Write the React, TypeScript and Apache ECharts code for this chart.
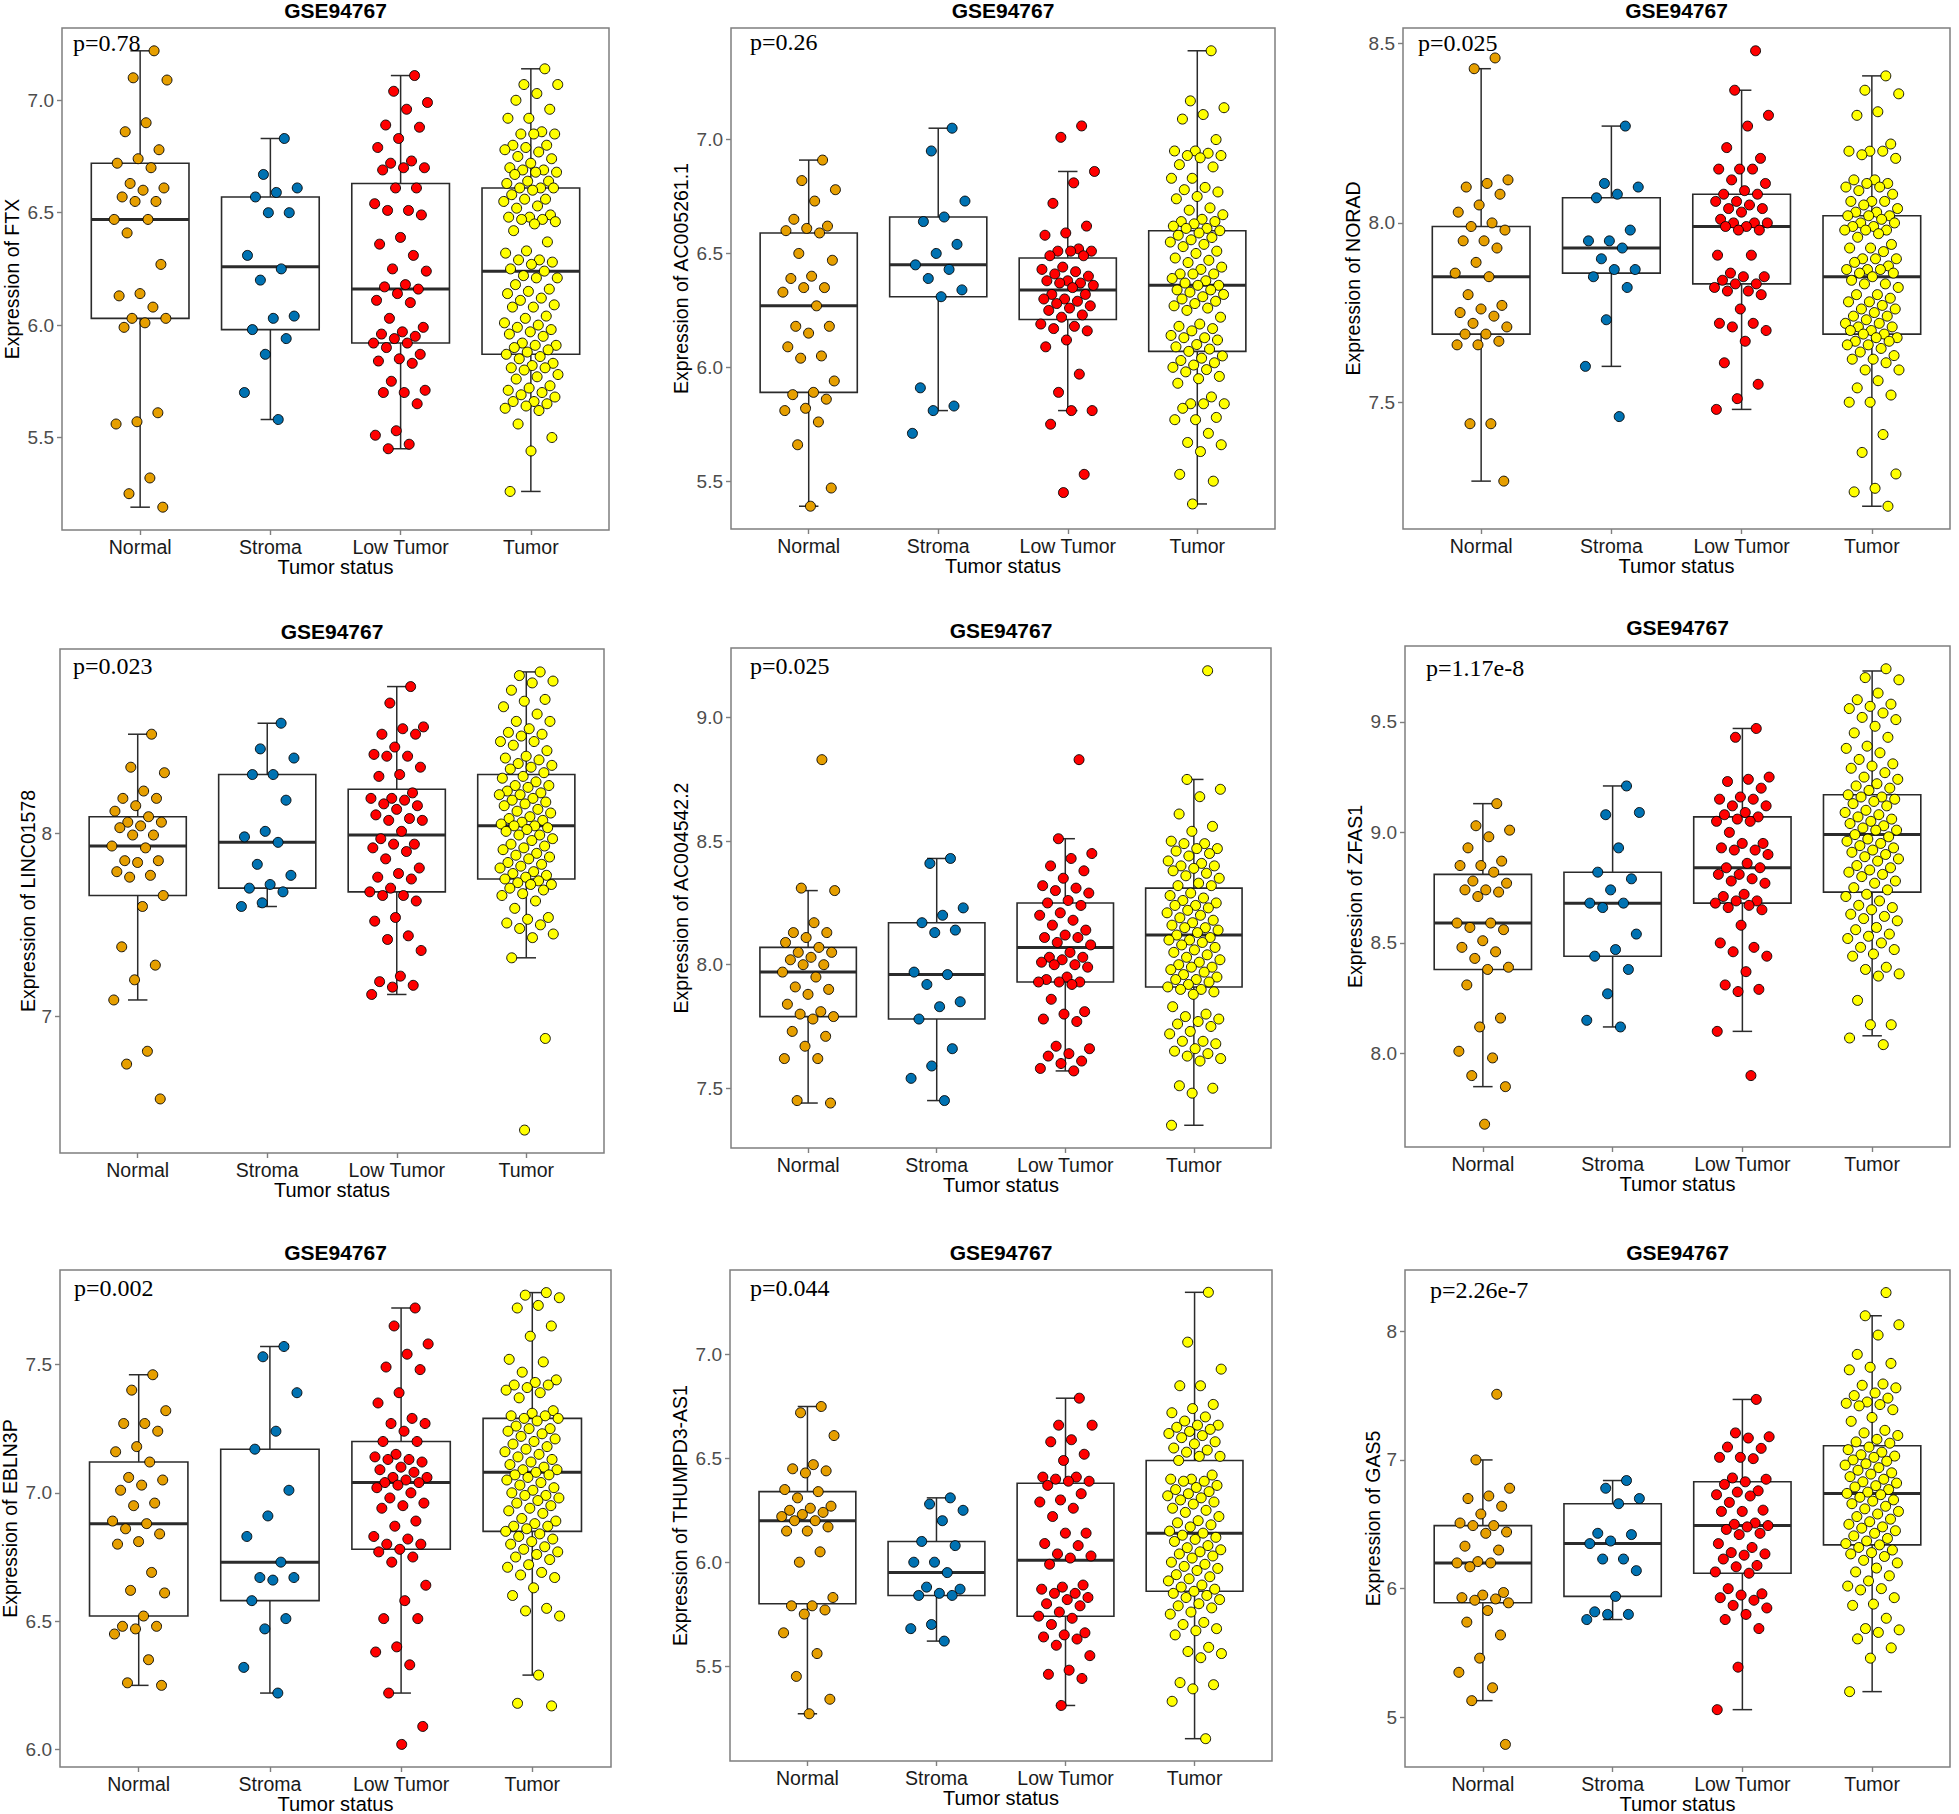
import React, { useEffect, useRef } from "react";
import * as echarts from "echarts";

const categories = ["Normal", "Stroma", "Low Tumor", "Tumor"];
const groupColors = ["#E69F00", "#0072B2", "#FF0000", "#FFFF00"];
const datasetTitle = "GSE94767";
const xAxisTitle = "Tumor status";

// ---------- Panel 1: FTX ----------
const ftxNormal = [7.22,7.10,7.09,6.90,6.86,6.78,6.74,6.72,6.70,6.63,6.61,6.60,6.57,6.55,6.55,6.47,6.47,6.41,6.27,6.14,6.13,6.08,6.03,6.03,6.01,5.99,5.61,5.57,5.56,5.32,5.25,5.19];
const ftxStroma = [6.83,6.67,6.61,6.59,6.57,6.50,6.50,6.31,6.25,6.20,6.04,6.03,5.98,5.94,5.87,5.70,5.58];
const ftxLow = [7.11,7.04,6.99,6.96,6.89,6.88,6.83,6.79,6.73,6.72,6.70,6.70,6.69,6.61,6.61,6.54,6.51,6.51,6.49,6.39,6.36,6.31,6.25,6.24,6.18,6.17,6.16,6.14,6.11,6.10,6.03,5.99,5.97,5.96,5.95,5.94,5.92,5.92,5.90,5.87,5.85,5.84,5.83,5.75,5.71,5.70,5.70,5.65,5.53,5.51,5.47,5.45];
const ftxTumor = [7.14,7.07,7.07,7.03,7.00,6.96,6.92,6.92,6.86,6.85,6.85,6.85,6.80,6.80,6.79,6.78,6.77,6.75,6.74,6.72,6.70,6.69,6.69,6.68,6.68,6.67,6.64,6.64,6.63,6.61,6.61,6.61,6.60,6.58,6.56,6.56,6.55,6.53,6.52,6.49,6.48,6.48,6.47,6.47,6.46,6.45,6.42,6.37,6.33,6.32,6.29,6.29,6.28,6.27,6.25,6.24,6.22,6.21,6.21,6.18,6.16,6.15,6.14,6.12,6.11,6.09,6.08,6.08,6.04,6.03,6.01,6.00,5.99,5.98,5.97,5.96,5.95,5.92,5.91,5.91,5.90,5.89,5.88,5.87,5.86,5.85,5.83,5.82,5.81,5.81,5.80,5.78,5.77,5.76,5.73,5.72,5.71,5.70,5.69,5.68,5.66,5.66,5.65,5.64,5.63,5.62,5.56,5.50,5.44,5.26];
const ftxBox = [[5.19,6.03,6.47,6.72,7.22],[5.58,5.98,6.26,6.57,6.83],[5.45,5.92,6.16,6.63,7.11],[5.26,5.87,6.24,6.61,7.14]];
const ftxTicks = [5.5, 6.0, 6.5, 7.0];

// ---------- Panel 2: AC005261.1 ----------
const ac005Normal = [6.91,6.82,6.78,6.73,6.65,6.62,6.61,6.60,6.59,6.50,6.47,6.40,6.39,6.35,6.35,6.33,6.27,6.18,6.18,6.15,6.09,6.05,6.04,5.94,5.89,5.88,5.86,5.82,5.81,5.76,5.66,5.47,5.39];
const ac005Stroma = [7.05,6.95,6.73,6.66,6.64,6.54,6.50,6.45,6.43,6.39,6.34,6.31,5.91,5.83,5.81,5.71];
const ac005Low = [7.06,7.01,6.86,6.81,6.72,6.62,6.59,6.58,6.52,6.51,6.51,6.51,6.49,6.49,6.44,6.43,6.42,6.41,6.40,6.38,6.38,6.37,6.37,6.36,6.35,6.32,6.32,6.30,6.30,6.29,6.28,6.27,6.26,6.25,6.23,6.22,6.19,6.18,6.17,6.16,6.12,6.09,5.97,5.89,5.81,5.81,5.75,5.53,5.45];
const ac005Tumor = [7.39,7.17,7.14,7.11,7.09,7.00,6.95,6.95,6.94,6.93,6.93,6.92,6.89,6.88,6.83,6.83,6.79,6.78,6.77,6.75,6.74,6.70,6.69,6.67,6.65,6.64,6.64,6.63,6.62,6.61,6.61,6.60,6.59,6.58,6.57,6.56,6.55,6.54,6.53,6.51,6.50,6.48,6.47,6.46,6.44,6.43,6.41,6.41,6.41,6.39,6.38,6.37,6.36,6.36,6.34,6.34,6.33,6.32,6.31,6.30,6.29,6.28,6.27,6.26,6.25,6.22,6.19,6.18,6.17,6.16,6.14,6.13,6.13,6.12,6.10,6.09,6.08,6.07,6.05,6.04,6.03,6.02,6.01,6.00,5.99,5.98,5.96,5.95,5.93,5.87,5.84,5.84,5.84,5.82,5.78,5.77,5.77,5.71,5.67,5.66,5.63,5.53,5.50,5.40];
const ac005Box = [[5.39,5.89,6.27,6.59,6.91],[5.81,6.31,6.45,6.66,7.05],[5.81,6.21,6.34,6.48,6.86],[5.40,6.07,6.36,6.60,7.39]];
const ac005Ticks = [5.5, 6.0, 6.5, 7.0];

// ---------- Panel 3: NORAD ----------
const noradNormal = [8.46,8.43,8.12,8.11,8.10,8.08,8.05,8.03,8.00,7.99,7.98,7.95,7.95,7.93,7.89,7.86,7.85,7.80,7.77,7.76,7.75,7.74,7.72,7.71,7.69,7.69,7.67,7.66,7.66,7.44,7.44,7.28];
const noradStroma = [8.27,8.11,8.10,8.08,8.07,7.98,7.95,7.95,7.93,7.90,7.87,7.87,7.85,7.82,7.73,7.60,7.46];
const noradLow = [8.48,8.37,8.30,8.27,8.21,8.18,8.15,8.15,8.15,8.12,8.11,8.09,8.08,8.08,8.06,8.06,8.05,8.04,8.04,8.03,8.01,8.00,8.00,8.00,7.99,7.99,7.98,7.98,7.91,7.91,7.86,7.85,7.85,7.84,7.83,7.83,7.82,7.81,7.81,7.80,7.76,7.72,7.72,7.71,7.70,7.67,7.61,7.55,7.51,7.48];
const noradTumor = [8.41,8.37,8.36,8.31,8.30,8.22,8.20,8.20,8.20,8.19,8.18,8.12,8.12,8.11,8.11,8.10,8.10,8.09,8.08,8.06,8.06,8.06,8.05,8.04,8.03,8.03,8.02,8.02,8.02,8.01,8.00,8.00,7.99,7.99,7.98,7.98,7.98,7.97,7.96,7.94,7.93,7.93,7.92,7.90,7.90,7.90,7.89,7.88,7.87,7.87,7.87,7.86,7.86,7.85,7.84,7.83,7.83,7.82,7.80,7.80,7.79,7.78,7.78,7.77,7.76,7.76,7.75,7.74,7.74,7.73,7.72,7.72,7.71,7.71,7.70,7.70,7.69,7.69,7.68,7.68,7.67,7.67,7.66,7.66,7.65,7.64,7.63,7.62,7.62,7.61,7.59,7.59,7.56,7.54,7.52,7.50,7.50,7.41,7.36,7.30,7.26,7.25,7.21];
const noradBox = [[7.28,7.69,7.85,7.99,8.43],[7.60,7.86,7.93,8.07,8.27],[7.48,7.83,7.99,8.08,8.37],[7.21,7.69,7.85,8.02,8.41]];
const noradTicks = [7.5, 8.0, 8.5];

// ---------- Panel 4: LINC01578 ----------
const lincNormal = [8.54,8.36,8.33,8.23,8.19,8.19,8.15,8.12,8.09,8.06,8.06,8.04,8.03,7.99,7.99,7.93,7.92,7.85,7.85,7.84,7.79,7.77,7.76,7.66,7.60,7.38,7.28,7.20,7.09,6.81,6.74,6.55];
const lincStroma = [8.60,8.46,8.41,8.32,8.32,8.18,8.01,7.98,7.95,7.83,7.77,7.72,7.70,7.68,7.62,7.60];
const lincLow = [8.80,8.71,8.58,8.57,8.54,8.54,8.47,8.43,8.42,8.42,8.36,8.32,8.31,8.22,8.19,8.19,8.18,8.16,8.15,8.13,8.10,8.08,8.07,8.07,8.01,7.97,7.94,7.94,7.92,7.90,7.86,7.81,7.78,7.76,7.75,7.70,7.68,7.66,7.66,7.63,7.54,7.52,7.44,7.42,7.36,7.22,7.19,7.17,7.16,7.12];
const lincTumor = [8.88,8.86,8.83,8.82,8.78,8.73,8.72,8.69,8.65,8.61,8.61,8.57,8.55,8.54,8.53,8.50,8.50,8.48,8.45,8.42,8.41,8.40,8.38,8.37,8.36,8.35,8.33,8.31,8.30,8.28,8.26,8.26,8.25,8.23,8.22,8.21,8.21,8.19,8.18,8.17,8.16,8.15,8.13,8.12,8.11,8.09,8.08,8.07,8.06,8.05,8.04,8.04,8.03,8.02,8.01,7.99,7.99,7.97,7.96,7.94,7.93,7.92,7.91,7.89,7.88,7.87,7.86,7.84,7.83,7.82,7.81,7.79,7.78,7.77,7.76,7.75,7.74,7.73,7.72,7.72,7.70,7.69,7.67,7.66,7.63,7.59,7.54,7.53,7.51,7.50,7.48,7.45,7.43,7.32,6.88,6.38];
const lincBox = [[7.09,7.66,7.93,8.09,8.54],[7.60,7.70,7.95,8.32,8.60],[7.12,7.68,7.99,8.24,8.80],[7.32,7.75,8.04,8.32,8.88]];
const lincTicks = [7, 8];

// ---------- Panel 5: AC004542.2 ----------
const ac004Normal = [8.83,8.31,8.30,8.17,8.13,8.13,8.11,8.09,8.07,8.05,8.05,8.03,8.02,8.00,8.00,7.97,7.95,7.91,7.90,7.88,7.84,7.81,7.80,7.79,7.78,7.73,7.71,7.67,7.62,7.62,7.45,7.44];
const ac004Stroma = [8.43,8.41,8.23,8.20,8.17,8.14,8.13,7.97,7.96,7.92,7.85,7.83,7.78,7.66,7.59,7.54,7.45];
const ac004Low = [8.83,8.51,8.45,8.43,8.40,8.38,8.35,8.32,8.31,8.30,8.29,8.26,8.25,8.24,8.21,8.20,8.18,8.16,8.14,8.12,8.11,8.11,8.09,8.08,8.05,8.03,8.03,8.02,8.01,8.00,8.00,7.99,7.95,7.94,7.93,7.93,7.93,7.92,7.86,7.81,7.80,7.78,7.77,7.67,7.66,7.64,7.63,7.61,7.60,7.58,7.57];
const ac004Tumor = [9.19,8.75,8.71,8.68,8.61,8.56,8.54,8.50,8.49,8.49,8.47,8.47,8.46,8.45,8.44,8.42,8.41,8.40,8.40,8.39,8.38,8.37,8.36,8.35,8.33,8.32,8.32,8.29,8.28,8.27,8.26,8.25,8.24,8.24,8.23,8.22,8.21,8.20,8.19,8.18,8.17,8.16,8.15,8.15,8.14,8.13,8.12,8.11,8.10,8.10,8.09,8.08,8.07,8.06,8.05,8.04,8.03,8.02,8.01,8.00,7.99,7.99,7.98,7.97,7.96,7.95,7.94,7.94,7.93,7.92,7.91,7.90,7.90,7.89,7.88,7.83,7.80,7.79,7.78,7.77,7.76,7.75,7.73,7.72,7.69,7.69,7.68,7.66,7.65,7.64,7.63,7.62,7.61,7.51,7.50,7.48,7.35];
const ac004Box = [[7.44,7.79,7.97,8.07,8.30],[7.45,7.78,7.96,8.17,8.43],[7.57,7.93,8.07,8.25,8.51],[7.35,7.91,8.12,8.31,8.75]];
const ac004Ticks = [7.5, 8.0, 8.5, 9.0];

// ---------- Panel 6: ZFAS1 ----------
const zfasNormal = [9.13,9.03,9.01,8.98,8.93,8.87,8.85,8.85,8.82,8.78,8.77,8.74,8.74,8.73,8.71,8.59,8.59,8.57,8.56,8.51,8.48,8.46,8.43,8.39,8.38,8.31,8.16,8.12,8.01,7.98,7.90,7.85,7.68];
const zfasStroma = [9.21,9.08,9.09,8.93,8.82,8.79,8.74,8.68,8.68,8.66,8.54,8.47,8.44,8.38,8.27,8.15,8.12];
const zfasLow = [9.47,9.43,9.25,9.24,9.23,9.20,9.16,9.15,9.15,9.12,9.12,9.09,9.08,9.07,9.06,9.05,9.05,9.00,8.95,8.95,8.93,8.92,8.92,8.90,8.86,8.84,8.84,8.81,8.81,8.79,8.78,8.77,8.72,8.71,8.69,8.69,8.68,8.67,8.66,8.65,8.58,8.50,8.48,8.46,8.44,8.37,8.31,8.29,8.28,8.10,7.90];
const zfasTumor = [9.74,9.70,9.69,9.63,9.60,9.58,9.57,9.56,9.54,9.52,9.51,9.48,9.45,9.43,9.39,9.38,9.36,9.33,9.31,9.30,9.29,9.27,9.25,9.24,9.22,9.21,9.20,9.19,9.17,9.16,9.16,9.15,9.14,9.13,9.12,9.10,9.09,9.08,9.07,9.06,9.05,9.04,9.03,9.02,9.01,9.01,8.99,8.98,8.97,8.96,8.95,8.94,8.93,8.92,8.91,8.90,8.89,8.88,8.87,8.85,8.84,8.83,8.82,8.81,8.80,8.78,8.77,8.75,8.74,8.72,8.71,8.69,8.67,8.66,8.65,8.63,8.62,8.61,8.60,8.57,8.56,8.54,8.53,8.52,8.50,8.48,8.47,8.45,8.44,8.39,8.38,8.36,8.35,8.24,8.13,8.13,8.07,8.04];
const zfasBox = [[7.85,8.38,8.59,8.81,9.13],[8.12,8.44,8.68,8.82,9.21],[8.10,8.68,8.84,9.07,9.47],[8.08,8.73,8.99,9.17,9.73]];
const zfasTicks = [8.0, 8.5, 9.0, 9.5];

// ---------- Panel 7: EBLN3P ----------
const eblnNormal = [7.46,7.40,7.32,7.27,7.27,7.24,7.18,7.16,7.12,7.06,7.05,7.03,7.01,6.96,6.95,6.89,6.88,6.86,6.84,6.81,6.80,6.69,6.62,6.61,6.52,6.48,6.48,6.47,6.45,6.35,6.26,6.25];
const eblnStroma = [7.57,7.53,7.39,7.24,7.17,7.01,6.91,6.83,6.73,6.67,6.67,6.66,6.58,6.51,6.47,6.32,6.22];
const eblnLow = [7.72,7.65,7.58,7.54,7.49,7.48,7.39,7.35,7.29,7.27,7.27,7.24,7.20,7.20,7.15,7.14,7.13,7.13,7.12,7.10,7.09,7.08,7.06,7.06,7.05,7.04,7.04,7.03,7.02,7.00,6.98,6.96,6.95,6.94,6.89,6.87,6.83,6.82,6.80,6.80,6.78,6.77,6.75,6.73,6.64,6.58,6.51,6.51,6.40,6.38,6.33,6.22,6.09,6.02];
const eblnTumor = [7.78,7.77,7.76,7.73,7.72,7.65,7.61,7.52,7.51,7.47,7.44,7.43,7.42,7.42,7.41,7.40,7.39,7.37,7.32,7.31,7.30,7.30,7.29,7.29,7.28,7.26,7.25,7.25,7.24,7.23,7.22,7.21,7.20,7.19,7.18,7.17,7.16,7.15,7.14,7.13,7.12,7.11,7.10,7.09,7.09,7.08,7.07,7.07,7.06,7.05,7.04,7.03,7.02,7.01,7.00,6.99,6.99,6.98,6.97,6.96,6.95,6.94,6.93,6.92,6.90,6.89,6.88,6.87,6.87,6.86,6.85,6.84,6.83,6.82,6.81,6.80,6.79,6.78,6.77,6.76,6.75,6.74,6.72,6.71,6.69,6.68,6.67,6.63,6.60,6.55,6.54,6.52,6.29,6.18,6.17];
const eblnBox = [[6.25,6.52,6.88,7.12,7.46],[6.22,6.58,6.73,7.17,7.57],[6.22,6.78,7.04,7.20,7.72],[6.29,6.85,7.08,7.29,7.78]];
const eblnTicks = [6.0, 6.5, 7.0, 7.5];

// ---------- Panel 8: THUMPD3-AS1 ----------
const thumNormal = [6.75,6.72,6.61,6.47,6.45,6.44,6.43,6.35,6.34,6.31,6.27,6.26,6.25,6.24,6.23,6.22,6.20,6.20,6.17,6.15,6.15,6.05,6.00,5.83,5.79,5.79,5.77,5.75,5.66,5.56,5.45,5.34,5.27];
const thumStroma = [6.31,6.28,6.25,6.20,6.10,6.08,6.00,6.00,5.95,5.88,5.87,5.85,5.84,5.84,5.70,5.68,5.62];
const thumLow = [6.79,6.66,6.66,6.59,6.58,6.52,6.49,6.41,6.41,6.40,6.39,6.39,6.37,6.33,6.30,6.29,6.26,6.22,6.14,6.14,6.09,6.08,6.04,6.03,6.02,5.99,5.89,5.88,5.87,5.85,5.85,5.83,5.82,5.80,5.79,5.76,5.74,5.73,5.70,5.66,5.65,5.64,5.63,5.60,5.55,5.48,5.46,5.44,5.31];
const thumTumor = [7.30,7.06,6.93,6.85,6.85,6.76,6.74,6.72,6.70,6.68,6.66,6.66,6.65,6.64,6.63,6.62,6.61,6.60,6.58,6.57,6.55,6.54,6.53,6.51,6.51,6.49,6.42,6.40,6.40,6.39,6.39,6.37,6.36,6.35,6.34,6.33,6.32,6.31,6.30,6.29,6.28,6.26,6.25,6.24,6.22,6.20,6.19,6.18,6.17,6.15,6.14,6.13,6.12,6.11,6.10,6.08,6.07,6.06,6.05,6.04,6.03,6.02,6.00,5.99,5.98,5.97,5.96,5.94,5.93,5.92,5.91,5.89,5.88,5.87,5.86,5.85,5.84,5.83,5.82,5.80,5.79,5.78,5.76,5.75,5.71,5.70,5.68,5.67,5.65,5.59,5.57,5.56,5.54,5.42,5.41,5.39,5.33,5.15];
const thumBox = [[5.27,5.80,6.20,6.34,6.75],[5.62,5.84,5.95,6.10,6.31],[5.31,5.74,6.01,6.38,6.79],[5.15,5.86,6.14,6.49,7.30]];
const thumTicks = [5.5, 6.0, 6.5, 7.0];

// ---------- Panel 9: GAS5 ----------
const gasNormal = [7.51,7.00,6.78,6.72,6.70,6.64,6.58,6.51,6.49,6.49,6.44,6.43,6.33,6.30,6.21,6.20,6.20,6.17,5.97,5.95,5.93,5.92,5.91,5.89,5.83,5.74,5.64,5.46,5.35,5.23,5.13,4.79];
const gasStroma = [6.84,6.78,6.70,6.66,6.43,6.42,6.37,6.35,6.23,6.23,6.14,5.94,5.82,5.80,5.80,5.76];
const gasLow = [7.47,7.21,7.18,7.17,7.10,7.09,7.02,7.02,7.01,6.86,6.85,6.83,6.81,6.76,6.75,6.73,6.72,6.67,6.61,6.60,6.60,6.51,6.50,6.49,6.48,6.46,6.43,6.42,6.35,6.32,6.28,6.27,6.26,6.23,6.18,6.17,6.13,6.12,6.00,5.96,5.95,5.93,5.91,5.87,5.85,5.80,5.76,5.69,5.39,5.06];
const gasTumor = [8.30,8.12,8.05,7.97,7.82,7.75,7.72,7.70,7.59,7.58,7.56,7.52,7.50,7.48,7.45,7.44,7.43,7.42,7.39,7.33,7.30,7.23,7.21,7.19,7.16,7.14,7.13,7.10,7.08,7.06,7.04,7.03,7.02,7.00,6.99,6.97,6.96,6.94,6.92,6.90,6.89,6.87,6.85,6.83,6.82,6.80,6.79,6.77,6.75,6.74,6.73,6.71,6.69,6.68,6.66,6.64,6.62,6.60,6.58,6.56,6.54,6.52,6.50,6.48,6.47,6.45,6.43,6.41,6.39,6.37,6.35,6.34,6.32,6.30,6.28,6.27,6.25,6.22,6.20,6.16,6.13,6.10,6.06,6.02,6.00,5.99,5.93,5.88,5.87,5.77,5.69,5.68,5.66,5.61,5.54,5.46,5.20];
const gasBox = [[5.13,5.89,6.20,6.49,7.00],[5.76,5.94,6.35,6.66,6.84],[5.06,6.12,6.49,6.83,7.47],[5.20,6.34,6.74,7.11,8.12]];
const gasTicks = [5, 6, 7, 8];

const geneNames = ["FTX", "AC005261.1", "NORAD", "LINC01578", "AC004542.2", "ZFAS1", "EBLN3P", "THUMPD3-AS1", "GAS5"];
const pValueLabels = ["p=0.78", "p=0.26", "p=0.025", "p=0.023", "p=0.025", "p=1.17e-8", "p=0.002", "p=0.044", "p=2.26e-7"];
const tickDecimals = [1, 1, 1, 0, 1, 1, 1, 1, 0];

const panelGroups = [
  [ftxNormal, ftxStroma, ftxLow, ftxTumor],
  [ac005Normal, ac005Stroma, ac005Low, ac005Tumor],
  [noradNormal, noradStroma, noradLow, noradTumor],
  [lincNormal, lincStroma, lincLow, lincTumor],
  [ac004Normal, ac004Stroma, ac004Low, ac004Tumor],
  [zfasNormal, zfasStroma, zfasLow, zfasTumor],
  [eblnNormal, eblnStroma, eblnLow, eblnTumor],
  [thumNormal, thumStroma, thumLow, thumTumor],
  [gasNormal, gasStroma, gasLow, gasTumor],
];
const panelBoxes = [ftxBox, ac005Box, noradBox, lincBox, ac004Box, zfasBox, eblnBox, thumBox, gasBox];
const panelTicks = [ftxTicks, ac005Ticks, noradTicks, lincTicks, ac004Ticks, zfasTicks, eblnTicks, thumTicks, gasTicks];

// ---------- Layout (pixel positions, kept apart from data) ----------
const W = 1959;
const H = 1814;
const layout = [
  { l: 62, t: 28, r: 609, b: 530, px: 73, py: 43, ty: 10, yt: 50 },
  { l: 731, t: 28, r: 1275, b: 529, px: 750, py: 42, ty: 10, yt: 50 },
  { l: 1403, t: 28, r: 1950, b: 529, px: 1418, py: 43, ty: 10, yt: 50 },
  { l: 60, t: 649, r: 604, b: 1153, px: 73, py: 666, ty: 631, yt: 32 },
  { l: 731, t: 648, r: 1271, b: 1148, px: 750, py: 666, ty: 630, yt: 50 },
  { l: 1405, t: 646, r: 1950, b: 1147, px: 1426, py: 668, ty: 627, yt: 50 },
  { l: 60, t: 1270, r: 611, b: 1767, px: 74, py: 1288, ty: 1252, yt: 50 },
  { l: 730, t: 1270, r: 1272, b: 1761, px: 750, py: 1288, ty: 1252, yt: 50 },
  { l: 1405, t: 1270, r: 1950, b: 1767, px: 1430, py: 1290, ty: 1252, yt: 32 },
];

const SANS = "'Liberation Sans', Arial, sans-serif";
const SERIF = "'Liberation Serif', 'Times New Roman', serif";
const LINE = "#2b2b2b";
const FRAME = "#7f7f7f";

// horizontal jitter offset (layout only), spread within +/-0.2 category units
const jitter = (i: number) => ((((i + 1) * 0.6180339887 + 0.137) % 1) - 0.5) * 0.42;

function buildOption() {
  const grid: any[] = [];
  const xAxis: any[] = [];
  const yAxis: any[] = [];
  const series: any[] = [];
  const graphic: any[] = [];

  panelGroups.forEach((groups, p) => {
    const L = layout[p];
    const boxes = panelBoxes[p];
    const all: number[] = [];
    groups.forEach((g) => g.forEach((v) => all.push(v)));
    boxes.forEach((b) => b.forEach((v) => all.push(v)));
    const lo = Math.min(...all);
    const hi = Math.max(...all);
    const pad = (hi - lo) * 0.05;
    const dec = tickDecimals[p];

    grid.push({
      left: L.l, top: L.t, width: L.r - L.l, height: L.b - L.t,
      show: true, borderColor: FRAME, borderWidth: 1.5, backgroundColor: "#ffffff",
    });
    xAxis.push({
      gridIndex: p, type: "value", min: 0.4, max: 4.6,
      axisLine: { show: false }, splitLine: { show: false },
      axisTick: { show: true, customValues: [1, 2, 3, 4], length: 5, lineStyle: { color: FRAME, width: 1.4 } },
      axisLabel: {
        customValues: [1, 2, 3, 4], margin: 7, fontSize: 19.5, color: "#1a1a1a", fontFamily: SANS,
        formatter: (v: number) => categories[Math.round(v) - 1] ?? "",
      },
    });
    yAxis.push({
      gridIndex: p, type: "value", min: lo - pad, max: hi + pad,
      axisLine: { show: false }, splitLine: { show: false },
      axisTick: { show: true, customValues: panelTicks[p], length: 5, lineStyle: { color: FRAME, width: 1.4 } },
      axisLabel: {
        customValues: panelTicks[p], margin: 8, fontSize: 19, color: "#4d4d4d", fontFamily: SANS,
        formatter: (v: number) => v.toFixed(dec),
      },
    });

    series.push({
      type: "custom", xAxisIndex: p, yAxisIndex: p, z: 2, silent: true,
      encode: { x: 0, y: [1, 2, 3, 4, 5] },
      data: boxes.map((b, g) => [g + 1, ...b]),
      renderItem: (_params: any, api: any) => {
        const x = api.value(0);
        const vLo = api.value(1), q1 = api.value(2), med = api.value(3), q3 = api.value(4), vHi = api.value(5);
        const cx = api.coord([x, med])[0];
        const yHi = api.coord([x, vHi])[1];
        const yLo = api.coord([x, vLo])[1];
        const yQ1 = api.coord([x, q1])[1];
        const yQ3 = api.coord([x, q3])[1];
        const yMed = api.coord([x, med])[1];
        const xl = api.coord([x - 0.375, med])[0];
        const xr = api.coord([x + 0.375, med])[0];
        const cl = api.coord([x - 0.075, med])[0];
        const cr = api.coord([x + 0.075, med])[0];
        const ls = { stroke: LINE, lineWidth: 1.5, fill: null };
        return {
          type: "group",
          children: [
            { type: "line", shape: { x1: cx, y1: yHi, x2: cx, y2: yLo }, style: ls },
            { type: "line", shape: { x1: cl, y1: yHi, x2: cr, y2: yHi }, style: ls },
            { type: "line", shape: { x1: cl, y1: yLo, x2: cr, y2: yLo }, style: ls },
            { type: "rect", shape: { x: xl, y: yQ3, width: xr - xl, height: yQ1 - yQ3 }, style: { fill: "#ffffff", stroke: LINE, lineWidth: 1.6 } },
            { type: "line", shape: { x1: xl, y1: yMed, x2: xr, y2: yMed }, style: { stroke: LINE, lineWidth: 3 } },
          ],
        };
      },
    });

    groups.forEach((vals, g) => {
      series.push({
        type: "scatter", xAxisIndex: p, yAxisIndex: p, z: 3, silent: true,
        symbol: "circle", symbolSize: 10,
        itemStyle: { color: groupColors[g], borderColor: "#000000", borderWidth: 0.9, opacity: 1 },
        data: vals.map((v, i) => [g + 1 + jitter(i), v]),
      });
    });

    const cxPlot = (L.l + L.r) / 2;
    graphic.push({
      type: "text", x: cxPlot, y: L.ty, silent: true,
      style: { text: datasetTitle, fill: "#000", font: `bold 21px ${SANS}`, align: "center", verticalAlign: "middle" },
    });
    graphic.push({
      type: "text", x: L.px, y: L.py, silent: true, z: 10,
      style: { text: pValueLabels[p], fill: "#000", font: `24px ${SERIF}`, align: "left", verticalAlign: "middle" },
    });
    graphic.push({
      type: "text", x: cxPlot, y: L.b + 37, silent: true,
      style: { text: xAxisTitle, fill: "#000", font: `20px ${SANS}`, align: "center", verticalAlign: "middle" },
    });
    graphic.push({
      type: "text", x: L.l - L.yt, y: (L.t + L.b) / 2, rotation: Math.PI / 2, silent: true,
      style: { text: `Expression of ${geneNames[p]}`, fill: "#000", font: `19.5px ${SANS}`, align: "center", verticalAlign: "middle" },
    });
  });

  return { animation: false, backgroundColor: "#ffffff", grid, xAxis, yAxis, series, graphic };
}

export default function App() {
  const ref = useRef<HTMLDivElement>(null);
  useEffect(() => {
    document.body.style.margin = "0";
    if (!ref.current) return;
    const chart = echarts.init(ref.current, undefined, { renderer: "svg" });
    chart.setOption(buildOption() as any);
    return () => chart.dispose();
  }, []);
  return <div ref={ref} style={{ width: W, height: H }} />;
}
